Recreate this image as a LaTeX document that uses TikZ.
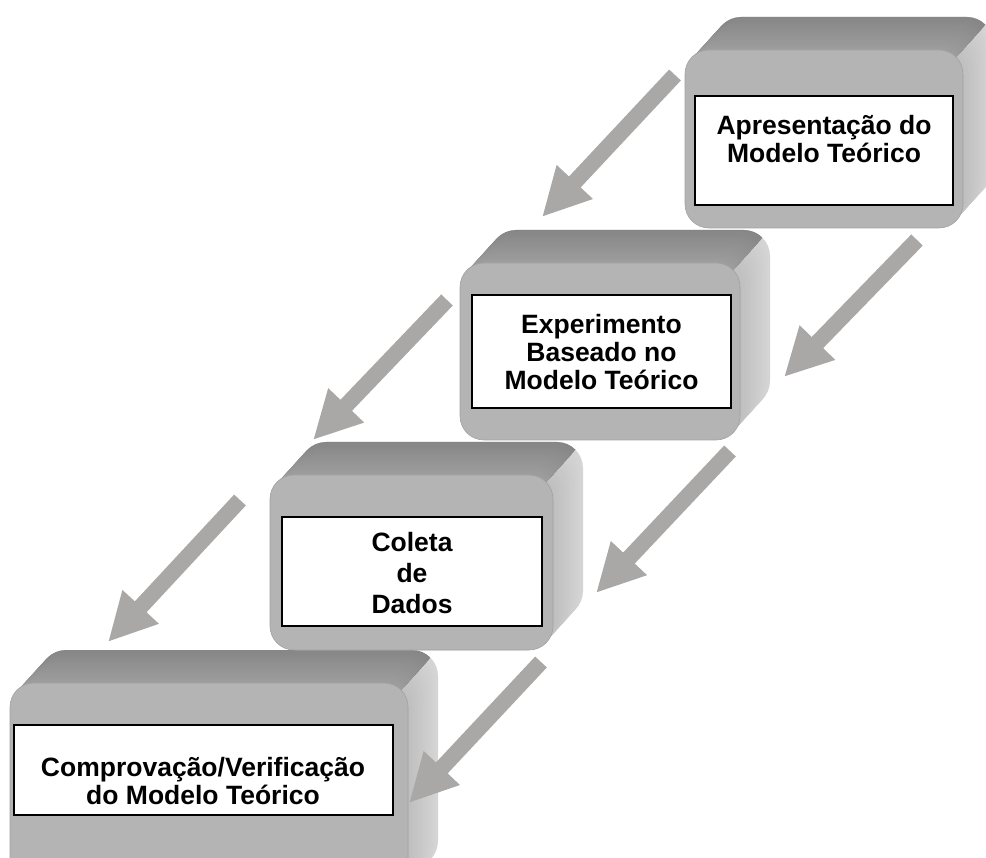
\documentclass[tikz,border=0pt]{standalone}
\usepackage{fontspec}
\setmainfont{Liberation Sans}
\usetikzlibrary{arrows.meta}

\definecolor{facefront}{HTML}{B4B4B4}
\definecolor{facetopback}{HTML}{868686}
\definecolor{facetopfront}{HTML}{9E9E9E}
\definecolor{facesideback}{HTML}{D6D6D6}
\definecolor{facesidefront}{HTML}{BEBEBE}
\definecolor{flowgray}{HTML}{AAA7A7}

\tikzset{
  frontface/.style={fill=facefront, draw=facefront!90!black, line width=0.6pt,
    rounded corners=24pt, inner sep=0pt},
  labelbox/.style={fill=white, draw=black, line width=1.6pt, inner sep=0pt},
  steplabel/.style={font=\bfseries\fontsize{26.5}{28}\selectfont, align=center,
    text=black, inner sep=0pt},
  flowarrow/.style={draw=flowgray, line width=16pt,
    -{Triangle[width=46pt,length=48pt]}},
}

% Extruded rounded block: #1 name, #2 left, #3 top, #4 right, #5 bottom (front face)
\newcommand\bevelbox[5]{%
  % right-hand face, swept from the back plane to the front plane
  \foreach \k in {0,...,30}{%
    \pgfmathsetmacro\bvt{1-\k/30}%
    \pgfmathtruncatemacro\bvmix{100*\bvt}%
    \fill[facesideback!\bvmix!facesidefront, rounded corners=26pt]
      ({#2+\bvt*30},{#3-\bvt*33}) rectangle ({#4+\bvt*30},{#5-\bvt*33});
  }%
  % upper face, kept left of the edge running back from the top-right corner
  \begin{scope}
    \clip ({#2-80},{#3+24}) -- ({#2-80},{#3-150}) -- ({#4-7+90},{#3+7-99})
      -- ({#4-7},{#3+7}) -- ({#4-24},{#3+24}) -- cycle;
    \foreach \k in {0,...,30}{%
      \pgfmathsetmacro\bvt{1-\k/30}%
      \pgfmathtruncatemacro\bvmix{100*\bvt}%
      \fill[facetopback!\bvmix!facetopfront, rounded corners=26pt]
        ({#2+\bvt*30},{#3-\bvt*33}) rectangle ({#4+\bvt*30},{#5-\bvt*33});
    }%
  \end{scope}
  % front face
  \node[frontface, minimum width={(#4-#2)*1pt}, minimum height={(#5-#3)*1pt}]
    (#1) at ({(#2+#4)/2},{(#3+#5)/2}) {};
}

\begin{document}
\begin{tikzpicture}[x=1pt, y=-1pt]
  \path[use as bounding box] (0,0) rectangle (986,858);
  \clip (0,0) rectangle (986,858);

  % step 4
  \bevelbox{s4}{10}{683}{408}{900}
  \node[labelbox, minimum width=379pt, minimum height=90pt] (s4card) at (203.5,770) {};
  \node[steplabel] (s4text) at (203,781) {Comprova\c{c}\~ao/Verifica\c{c}\~ao\\do Modelo Te\'orico};

  % step 3
  \bevelbox{s3}{270}{475}{553}{650}
  \node[labelbox, minimum width=260pt, minimum height=109pt] (s3card) at (412,571.5) {};
  \node[steplabel, font=\bfseries\fontsize{26.5}{31}\selectfont] (s3text) at (412,573.5) {Coleta\\de\\Dados};

  % step 2
  \bevelbox{s2}{460}{263}{740}{440}
  \node[labelbox, minimum width=259pt, minimum height=113pt] (s2card) at (601.5,351.5) {};
  \node[steplabel] (s2text) at (601.5,352.5) {Experimento\\Baseado no\\Modelo Te\'orico};

  % step 1
  \bevelbox{s1}{685}{50}{963}{228}
  \node[labelbox, minimum width=258pt, minimum height=109pt] (s1card) at (824,150.5) {};
  \node[steplabel] (s1text) at (824,139.5) {Apresenta\c{c}\~ao do\\Modelo Te\'orico};

  % flow arrows
  \coordinate (a1s) at (675,75);  \coordinate (a1e) at (542,217);
  \coordinate (a2s) at (917,240); \coordinate (a2e) at (784,377);
  \coordinate (a3s) at (447,300); \coordinate (a3e) at (313,440);
  \coordinate (a4s) at (730,451); \coordinate (a4e) at (596,593);
  \coordinate (a5s) at (240,500); \coordinate (a5e) at (108,642);
  \coordinate (a6s) at (541,662); \coordinate (a6e) at (409,803);
  \foreach \a in {1,...,6}{\draw[flowarrow] (a\a s) -- (a\a e);}
\end{tikzpicture}
\end{document}
